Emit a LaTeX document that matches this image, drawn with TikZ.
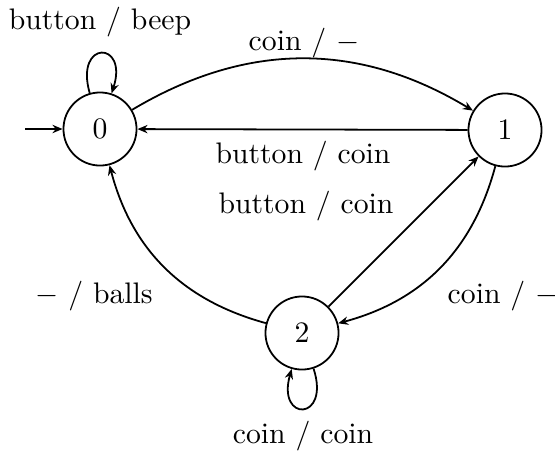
\documentclass[tikz,border=0pt]{standalone}
\usetikzlibrary{arrows.meta}
\begin{document}
\begin{tikzpicture}[x=0.3367pt,y=-0.3367pt,
  state/.style={circle,draw,semithick,minimum size=24.6pt,inner sep=0pt},
  edge/.style={semithick,-{Stealth[length=3.4pt,width=2.8pt]}},
  lbl/.style={inner sep=0pt}]
\useasboundingbox (0,0) rectangle (555,450);
\node[state] (s0) at (100,129) {0};
\node[state] (s1) at (505,130) {1};
\node[state] (s2) at (302,333) {2};
\coordinate (init) at (25,129);
\draw[edge] (init) -- (s0);
\draw[edge] (s0) to[bend left=31] (s1);
\draw[edge] (s1) -- (s0);
\draw[edge] (s2) -- (s1);
\draw[edge] (s1) to[bend left=30] (s2);
\draw[edge] (s2) to[bend left=30] (s0);
\draw[edge] (s0) to[out=106,in=72,looseness=6.5] (s0);
\draw[edge] (s2) to[out=-72,in=-106,looseness=6.5] (s2);
\node[lbl] (l01) at (304,43) {coin / $-$};
\node[lbl] (l10) at (303,156) {button / coin};
\node[lbl] (l21) at (306,206) {button / coin};
\node[lbl] (l12) at (503,296) {coin / $-$};
\node[lbl] (l20) at (94,296) {$-$ / balls};
\node[lbl] (l00) at (100,22) {button / beep};
\node[lbl] (l22) at (303,436) {coin / coin};
\end{tikzpicture}
\end{document}
